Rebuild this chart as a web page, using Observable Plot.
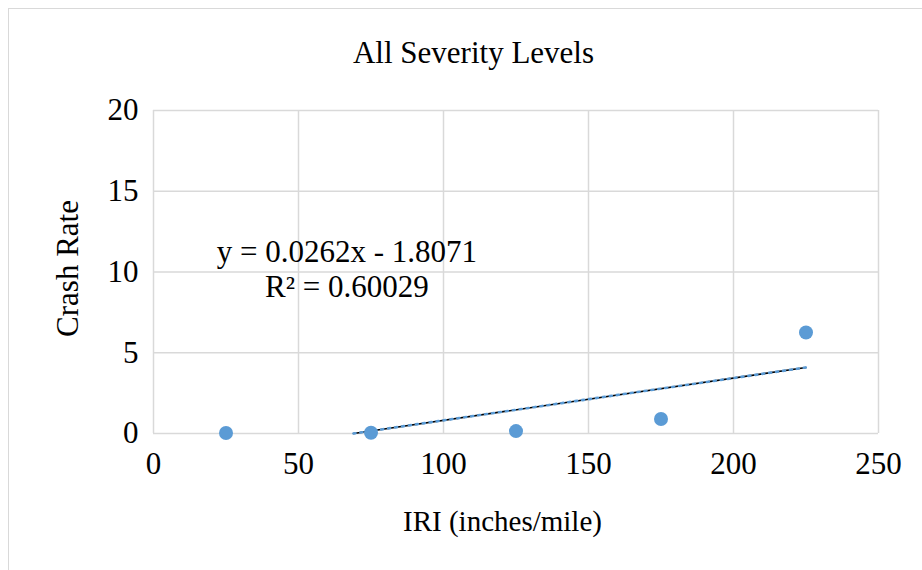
<!DOCTYPE html>
<html>
<head>
<meta charset="utf-8">
<script src="https://cdn.jsdelivr.net/npm/d3@7"></script>
<script src="https://cdn.jsdelivr.net/npm/@observablehq/plot@0.6"></script>
<style>
  html, body { margin: 0; padding: 0; background: #fff; }
  #wrap { position: relative; width: 922px; height: 570px; overflow: hidden; }
  #border { position: absolute; left: 8px; top: 8px; width: 1000px; height: 1000px;
            border-left: 1.5px solid #d9d9d9; border-top: 1.5px solid #d9d9d9; }
  #chart { position: absolute; left: 0; top: 0; }
</style>
</head>
<body>
<div id="wrap"><div id="border"></div><div id="chart"></div></div>
<script>
const title = "All Severity Levels";
const xLabel = "IRI (inches/mile)";
const yLabel = "Crash Rate";
const iri = [25, 75, 125, 175, 225];
const crashRate = [0.03, 0.05, 0.15, 0.9, 6.25];
const xTicks = [0, 50, 100, 150, 200, 250];
const yTicks = [0, 5, 10, 15, 20];
const slope = 0.0262;
const intercept = -1.8071;
const rSquared = "0.60029";
const trendEnd = 225;

const points = iri.map((x, i) => ({x, y: crashRate[i]}));
const trendStart = -intercept / slope;
const trend = [trendStart, trendEnd].map(x => ({x, y: slope * x + intercept}));
const eqText = `y = ${slope}x - ${Math.abs(intercept)}\nR² = ${rSquared}`;

const font = "Liberation Serif, Times New Roman, serif";
const blue = "#5B9BD5";
const grid = "#d9d9d9";
const fs = 31;

const plot = Plot.plot({
  width: 922,
  height: 570,
  marginLeft: 153,
  marginRight: 44,
  marginTop: 110,
  marginBottom: 137,
  style: {fontFamily: font, fontSize: fs + "px", color: "#000", background: "transparent", overflow: "visible"},
  x: {domain: [0, 250], ticks: xTicks, label: null},
  y: {domain: [0, 20], ticks: yTicks, label: null},
  marks: [
    Plot.gridX(xTicks, {stroke: grid, strokeOpacity: 1, strokeWidth: 1.5}),
    Plot.gridY(yTicks, {stroke: grid, strokeOpacity: 1, strokeWidth: 1.5}),
    Plot.axisX(xTicks, {tickSize: 0, tickPadding: 18, fontSize: fs, fill: "#000"}),
    Plot.axisY(yTicks, {tickSize: 0, tickPadding: 15, fontSize: fs, fill: "#000"}),
    Plot.line(trend, {x: "x", y: "y", stroke: "#000", strokeWidth: 1.6}),
    Plot.line(trend, {x: "x", y: "y", stroke: blue, strokeWidth: 2.6, strokeDasharray: "2,5", strokeLinecap: "round"}),
    Plot.dot(points, {x: "x", y: "y", r: 7, fill: blue, stroke: null}),
    Plot.text([eqText], {x: 66.7, y: 10.2, text: d => d, fontSize: fs, lineHeight: 1.13, textAnchor: "middle", lineAnchor: "middle", fill: "#000"}),
    Plot.text([title], {frameAnchor: "top-left", dx: 473 - 153, dy: 53 - 110, text: d => d, textAnchor: "middle", lineAnchor: "middle", fontSize: fs, fill: "#000"}),
    Plot.text([xLabel], {frameAnchor: "top-left", dx: 502 - 153, dy: 521 - 110, text: d => d, textAnchor: "middle", lineAnchor: "middle", fontSize: 29, fill: "#000"}),
    Plot.text([yLabel], {frameAnchor: "top-left", dx: 68 - 153, dy: 268 - 110, rotate: -90, text: d => d, textAnchor: "middle", lineAnchor: "middle", fontSize: fs, fill: "#000"})
  ]
});
document.getElementById("chart").appendChild(plot);
</script>
</body>
</html>
